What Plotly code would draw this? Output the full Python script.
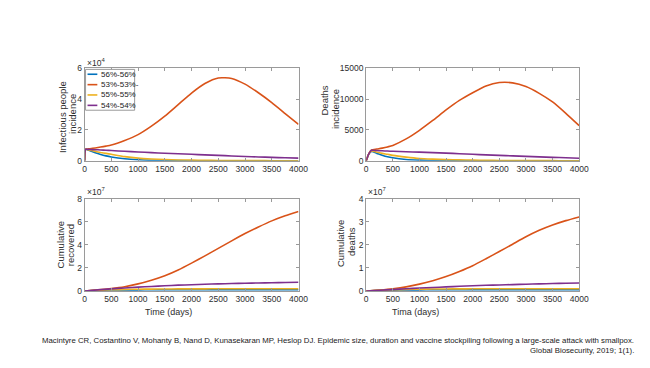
import plotly.graph_objects as go

# ---------------- data ----------------
series_names = ["56%-56%", "53%-53%-", "55%-55%", "54%-54%"]
series_colors = ["#0072BD", "#D95319", "#EDB120", "#7E2F8E"]

t_inc = [0, 20, 50, 100, 200, 300, 400, 500, 750, 1000, 1250, 1500, 1750,
         2000, 2250, 2500, 2750, 3000, 3250, 3500, 3750, 4000]

inf_blue = [0, 7500, 7200, 6500, 5200, 4100, 3200, 2500, 1300, 650, 320, 160, 80,
            40, 20, 10, 5, 3, 2, 1, 1, 0]
inf_orange = [0, 7500, 7650, 7850, 8350, 8900, 9500, 10200, 13200, 17000, 22500, 29000, 36500,
              44000, 50200, 53800, 53500, 49800, 44200, 37800, 30700, 23600]
inf_yellow = [0, 7500, 7300, 6900, 6100, 5400, 4800, 4200, 2700, 1700, 1150, 800, 550,
              400, 280, 200, 150, 110, 80, 60, 45, 35]
inf_purple = [0, 7500, 7450, 7350, 7200, 7050, 6850, 6650, 6150, 5700, 5300, 4900, 4550,
              4200, 3850, 3500, 3150, 2800, 2500, 2200, 1950, 1700]

dth_blue = [0, 500, 1100, 1500, 1200, 900, 650, 480, 220, 110, 50, 25, 12,
            5, 2, 1, 0, 0, 0, 0, 0, 0]
dth_orange = [0, 500, 1150, 1750, 1900, 2050, 2250, 2500, 3550, 4950, 6550, 8250, 9800,
              11050, 12150, 12700, 12650, 12050, 10950, 9550, 7700, 5700]
dth_yellow = [0, 500, 1150, 1600, 1400, 1200, 1050, 880, 600, 380, 270, 190, 140,
              100, 75, 55, 45, 35, 25, 18, 14, 10]
dth_purple = [0, 500, 1150, 1700, 1660, 1620, 1580, 1540, 1460, 1400, 1320, 1240, 1150,
              1050, 960, 880, 800, 720, 640, 560, 490, 420]

t_cum = [0, 250, 500, 750, 1000, 1250, 1500, 1750, 2000, 2250, 2500, 2750,
         3000, 3250, 3500, 3750, 4000]

rec_blue = [0, 0.060e7, 0.085e7, 0.100e7, 0.105e7, 0.108e7, 0.110e7, 0.110e7, 0.110e7,
            0.110e7, 0.110e7, 0.110e7, 0.110e7, 0.110e7, 0.110e7, 0.110e7, 0.110e7]
rec_orange = [0, 0.10e7, 0.22e7, 0.38e7, 0.62e7, 0.94e7, 1.33e7, 1.83e7, 2.42e7,
              3.05e7, 3.70e7, 4.35e7, 4.98e7, 5.55e7, 6.08e7, 6.52e7, 6.90e7]
rec_yellow = [0, 0.070e7, 0.110e7, 0.140e7, 0.160e7, 0.170e7, 0.180e7, 0.185e7, 0.190e7,
              0.192e7, 0.194e7, 0.195e7, 0.196e7, 0.197e7, 0.198e7, 0.199e7, 0.200e7]
rec_purple = [0, 0.10e7, 0.19e7, 0.27e7, 0.34e7, 0.40e7, 0.46e7, 0.51e7, 0.55e7,
              0.59e7, 0.62e7, 0.65e7, 0.68e7, 0.70e7, 0.72e7, 0.74e7, 0.76e7]

cd_blue = [0, 0.030e7, 0.042e7, 0.050e7, 0.053e7, 0.054e7, 0.055e7, 0.056e7, 0.056e7,
           0.056e7, 0.056e7, 0.056e7, 0.056e7, 0.056e7, 0.056e7, 0.056e7, 0.056e7]
cd_orange = [0, 0.045e7, 0.10e7, 0.18e7, 0.30e7, 0.45e7, 0.63e7, 0.85e7, 1.10e7,
             1.40e7, 1.71e7, 2.03e7, 2.35e7, 2.63e7, 2.86e7, 3.05e7, 3.21e7]
cd_yellow = [0, 0.035e7, 0.055e7, 0.070e7, 0.080e7, 0.087e7, 0.092e7, 0.095e7, 0.097e7,
             0.098e7, 0.099e7, 0.100e7, 0.100e7, 0.100e7, 0.100e7, 0.100e7, 0.100e7]
cd_purple = [0, 0.035e7, 0.070e7, 0.100e7, 0.130e7, 0.155e7, 0.180e7, 0.205e7, 0.230e7,
             0.250e7, 0.265e7, 0.280e7, 0.295e7, 0.310e7, 0.325e7, 0.340e7, 0.350e7]

x_ticks = [0, 500, 1000, 1500, 2000, 2500, 3000, 3500, 4000]
inf_ticks = [0, 20000, 40000, 60000]
inf_ticktext = ["0", "2", "4", "6"]
dth_ticks = [0, 5000, 10000, 15000]
dth_ticktext = ["0", "5000", "10000", "15000"]
rec_ticks = [0, 2e7, 4e7, 6e7, 8e7]
rec_ticktext = ["0", "2", "4", "6", "8"]
cd_ticks = [0, 1e7, 2e7, 3e7, 4e7]
cd_ticktext = ["0", "1", "2", "3", "4"]

citation_1 = ("Macintyre CR, Costantino V, Mohanty B, Nand D, Kunasekaran MP, Heslop DJ. "
              "Epidemic size, duration and vaccine stockpiling following a large-scale attack with smallpox.")
citation_2 = "Global Biosecurity, 2019; 1(1)."

# ---------------- layout helpers ----------------
# the page body has an 8px margin, so the figure is sized to fill the rest of the window
OFF = 8
W, H = 650 - OFF, 368 - OFF
FONT = "Liberation Sans, Arial, Helvetica, sans-serif"
TXT = "#2e2e2e"
AX = "#9a9a9a"


def px(x):
    return (x - OFF) / W


def py(y):
    return 1 - (y - OFF) / H


fig = go.Figure()

panels = [
    (t_inc, [inf_blue, inf_orange, inf_yellow, inf_purple], "x", "y"),
    (t_inc, [dth_blue, dth_orange, dth_yellow, dth_purple], "x2", "y2"),
    (t_cum, [rec_blue, rec_orange, rec_yellow, rec_purple], "x3", "y3"),
    (t_cum, [cd_blue, cd_orange, cd_yellow, cd_purple], "x4", "y4"),
]
for t, ys, xa, ya in panels:
    for name, col, yv in zip(series_names, series_colors, ys):
        fig.add_trace(go.Scatter(x=t, y=yv, mode="lines", name=name, xaxis=xa, yaxis=ya,
                                 line=dict(color=col, width=1.6, shape="spline", smoothing=0.6),
                                 showlegend=False))

left_dom = [px(84), px(302)]
right_dom = [px(371), px(588)]
top_dom = [py(160), py(65)]
bot_dom = [py(294), py(199)]

common_x = dict(range=[0, 4000], tickvals=x_ticks, ticks="inside", ticklen=3, tickcolor=AX,
                showline=True, linecolor=AX, linewidth=1, mirror="ticks", showgrid=False,
                zeroline=False, tickfont=dict(family=FONT, size=8.5, color=TXT))
common_y = dict(ticks="inside", ticklen=3, tickcolor=AX, showline=True, linecolor=AX,
                linewidth=1, mirror="ticks", showgrid=False, zeroline=False,
                tickfont=dict(family=FONT, size=8.5, color=TXT))

fig.update_layout(
    width=W, height=H, margin=dict(l=0, r=0, t=0, b=0),
    paper_bgcolor="white", plot_bgcolor="white", showlegend=False,
    xaxis=dict(domain=left_dom, anchor="y", **common_x),
    yaxis=dict(domain=top_dom, anchor="x", range=[0, 60000], tickvals=inf_ticks,
               ticktext=inf_ticktext, **common_y),
    xaxis2=dict(domain=right_dom, anchor="y2", **common_x),
    yaxis2=dict(domain=top_dom, anchor="x2", range=[0, 15000], tickvals=dth_ticks,
                ticktext=dth_ticktext, **common_y),
    xaxis3=dict(domain=left_dom, anchor="y3", **common_x),
    yaxis3=dict(domain=bot_dom, anchor="x3", range=[0, 8e7], tickvals=rec_ticks,
                ticktext=rec_ticktext, **common_y),
    xaxis4=dict(domain=right_dom, anchor="y4", **common_x),
    yaxis4=dict(domain=bot_dom, anchor="x4", range=[0, 4e7], tickvals=cd_ticks,
                ticktext=cd_ticktext, **common_y),
)

ann = []


def text(x, y, s, size=9.5, angle=0, xanchor="center", color=TXT, family=FONT):
    ann.append(dict(x=px(x), y=py(y), xref="paper", yref="paper", text=s, showarrow=False,
                    textangle=angle, xanchor=xanchor, yanchor="middle",
                    font=dict(family=family, size=size, color=color)))


# y titles (two lines each)
text(61, 115, "Infectious people", angle=-90)
text(71, 112, "incidence", angle=-90)
text(328, 98, "Deaths", angle=-90)
text(339, 107, "incidence", angle=-90)
text(59, 246, "Cumulative", angle=-90)
text(70, 247, "recovered", angle=-90)
text(345, 245, "Cumulative", angle=-90)
text(356, 243, "deaths", angle=-90)

# x titles
text(170, 316, "Time (days)", size=9)
text(421, 316, "Tima (days)", size=9)

# exponent labels
text(84, 59, "×10<sup>4</sup>", size=8.5, xanchor="left")
text(84, 192, "×10<sup>7</sup>", size=8.5, xanchor="left")
text(371, 192, "×10<sup>7</sup>", size=8.5, xanchor="left")

# citation
CFONT = "Liberation Sans Narrow, Arial Narrow, Liberation Sans, sans-serif"
ann.append(dict(x=px(646), y=py(345), xref="paper", yref="paper", text=citation_1,
                showarrow=False, xanchor="right", yanchor="middle",
                font=dict(family=CFONT, size=7.8, color="#1a1a1a")))
ann.append(dict(x=px(646), y=py(355), xref="paper", yref="paper", text=citation_2,
                showarrow=False, xanchor="right", yanchor="middle",
                font=dict(family=CFONT, size=7.8, color="#1a1a1a")))

# legend (top-left panel)
shapes = [dict(type="rect", xref="paper", yref="paper", x0=px(85), x1=px(135),
               y0=py(108), y1=py(66), line=dict(color=AX, width=1), fillcolor="white")]
leg_y = [71, 81.7, 92.3, 103]
for name, col, yy in zip(series_names, series_colors, leg_y):
    shapes.append(dict(type="line", xref="paper", yref="paper", x0=px(87), x1=px(97),
                       y0=py(yy), y1=py(yy), line=dict(color=col, width=1.6)))
    text(99, yy, name, size=8, xanchor="left", color="#1a1a1a")

fig.update_layout(annotations=ann, shapes=shapes)
fig.write_html("out.html")
